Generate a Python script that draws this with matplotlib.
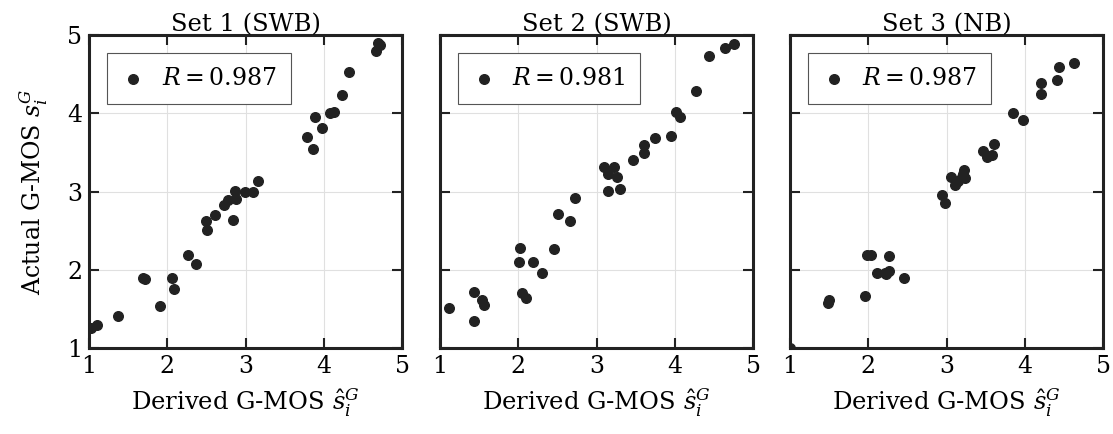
import matplotlib.pyplot as plt

plt.rcParams['font.family'] = ['DejaVu Serif']
plt.rcParams['mathtext.fontset'] = 'dejavuserif'

titles = ['Set 1 (SWB)', 'Set 2 (SWB)', 'Set 3 (NB)']
r_values = [0.987, 0.981, 0.987]

set1_x = [1.02, 1.10, 1.37, 1.69, 1.72, 1.91, 2.06, 2.08, 2.26, 2.36, 2.49, 2.51, 2.61,
          2.72, 2.77, 2.84, 2.86, 2.88, 2.99, 3.09, 3.16, 3.78, 3.86, 3.88, 3.98, 4.08,
          4.13, 4.23, 4.32, 4.66, 4.69, 4.72]
set1_y = [1.26, 1.29, 1.41, 1.89, 1.88, 1.54, 1.90, 1.76, 2.19, 2.07, 2.62, 2.51, 2.70,
          2.83, 2.89, 2.64, 3.01, 2.91, 2.99, 3.00, 3.13, 3.70, 3.54, 3.96, 3.81, 4.01,
          4.02, 4.23, 4.53, 4.80, 4.90, 4.87]

set2_x = [1.11, 1.43, 1.43, 1.54, 1.56, 2.02, 2.01, 2.05, 2.10, 2.19, 2.30, 2.45, 2.51,
          2.66, 2.72, 3.15, 3.30, 3.10, 3.22, 3.15, 3.26, 3.47, 3.60, 3.60, 3.75, 3.95,
          4.01, 4.06, 4.27, 4.44, 4.64, 4.75]
set2_y = [1.51, 1.72, 1.35, 1.61, 1.55, 2.28, 2.10, 1.71, 1.64, 2.10, 1.96, 2.27, 2.71,
          2.62, 2.92, 3.01, 3.03, 3.31, 3.31, 3.22, 3.19, 3.40, 3.49, 3.59, 3.69, 3.71,
          4.02, 3.95, 4.29, 4.73, 4.83, 4.89]

set3_x = [1.00, 1.50, 1.49, 1.96, 1.98, 2.03, 2.27, 2.11, 2.21, 2.27, 2.23, 2.45, 2.94,
          2.98, 3.06, 3.11, 3.14, 3.19, 3.22, 3.23, 3.21, 3.46, 3.52, 3.58, 3.61, 3.85,
          3.98, 4.20, 4.21, 4.41, 4.44, 4.62]
set3_y = [1.00, 1.61, 1.57, 1.67, 2.19, 2.19, 2.18, 1.96, 1.96, 1.98, 1.95, 1.90, 2.96,
          2.86, 3.19, 3.08, 3.13, 3.19, 3.28, 3.17, 3.22, 3.52, 3.44, 3.47, 3.61, 4.01,
          3.92, 4.39, 4.25, 4.43, 4.59, 4.64]

data = [(set1_x, set1_y), (set2_x, set2_y), (set3_x, set3_y)]
ticks = [1, 2, 3, 4, 5]

fig = plt.figure(figsize=(11.13, 4.34), dpi=100)
lefts = [0.080, 0.3953, 0.7098]
for i, (xs, ys) in enumerate(data):
    ax = fig.add_axes([lefts[i], 0.198, 0.2815, 0.721])
    ax.scatter(xs, ys, s=48, color='#222222', zorder=3, label=f'$R = {r_values[i]}$')
    ax.set_xlim(1, 5)
    ax.set_ylim(1, 5)
    ax.set_xticks(ticks)
    ax.set_yticks(ticks)
    ax.grid(True, color='#e0e0e0', linewidth=0.8)
    for s in ax.spines.values():
        s.set_linewidth(2.2)
        s.set_color('#222222')
    ax.tick_params(direction='in', length=7, width=1.5, top=True, right=True,
                   labelsize=17, pad=5, color='#222222')
    if i > 0:
        ax.set_yticklabels([])
    else:
        ax.set_ylabel('Actual G-MOS $s_i^G$', fontsize=17, labelpad=12)
    ax.set_xlabel('Derived G-MOS $\\hat{s}_i^G$', fontsize=17.5, labelpad=6)
    ax.set_title(titles[i], fontsize=17.5, pad=3)
    leg = ax.legend(loc='upper left', fontsize=17, fancybox=False, framealpha=1,
                    edgecolor='#555555', handletextpad=0.7, borderpad=0.6,
                    bbox_to_anchor=(0.058, 0.9425), handlelength=1.0,
                    borderaxespad=0)
    leg.get_frame().set_linewidth(0.8)

fig.savefig('out.png', dpi=100)
